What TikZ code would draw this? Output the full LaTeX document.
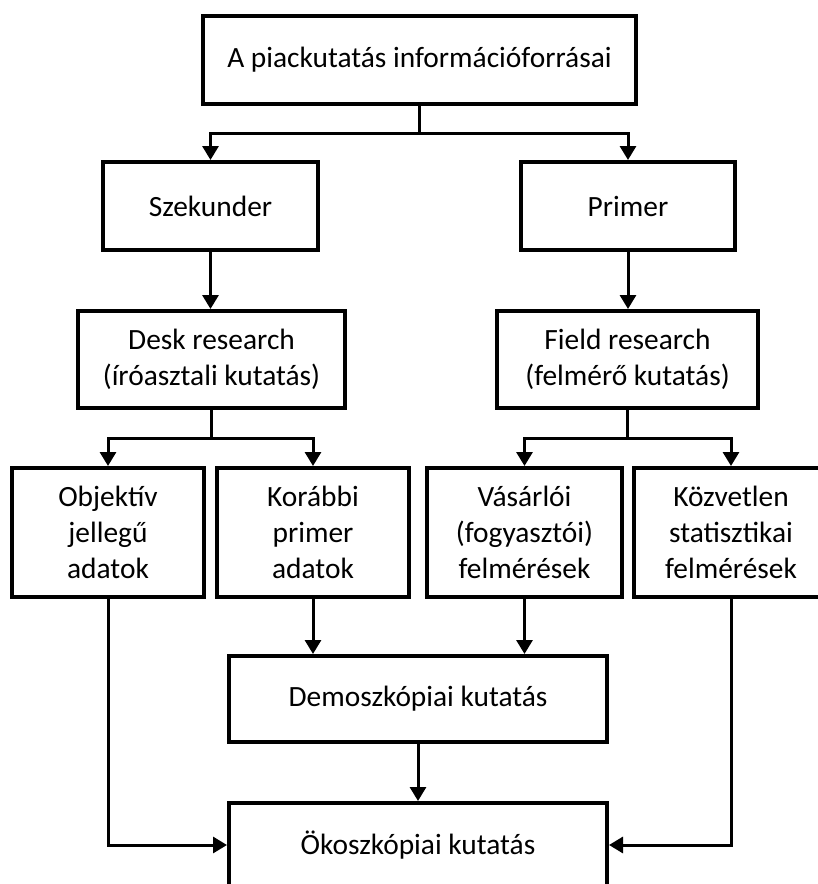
\documentclass[tikz,border=0pt]{standalone}
\usepackage{fontspec}
\setmainfont{Carlito}
\usetikzlibrary{arrows.meta}
\tikzset{
    doboz/.style={draw, line width=2pt, align=center, inner sep=0pt,
        font=\fontsize{14.7}{18}\selectfont},
    nyil/.style={line width=1.5pt, -{Triangle[length=7pt,width=8pt]}},
    vonal/.style={line width=1.5pt}
}
\begin{document}
\begin{tikzpicture}[x=0.5pt, y=-0.5pt]
\useasboundingbox (0,0) rectangle (818,884);
\clip (0,0) rectangle (818,884);
% dobozok
\node[doboz, minimum width=216.5pt, minimum height=44pt] (forras) at (419.5,60) {A piackutatás információforrásai};
\node[doboz, minimum width=107.5pt, minimum height=44pt] (szek) at (210.5,206) {Szekunder};
\node[doboz, minimum width=107pt, minimum height=44pt] (prim) at (628,206) {Primer};
\node[doboz, minimum width=133.5pt, minimum height=48.5pt] (desk) at (211.5,359.5) {Desk research\\(íróasztali kutatás)};
\node[doboz, minimum width=130.5pt, minimum height=48.5pt] (field) at (627.5,359.5) {Field research\\(felmérő kutatás)};
\node[doboz, minimum width=96pt, minimum height=64.5pt] (obj) at (108,532.5) {Objektív\\jellegű\\adatok};
\node[doboz, minimum width=96pt, minimum height=64.5pt] (kor) at (313,532.5) {Korábbi\\primer\\adatok};
\node[doboz, minimum width=97.5pt, minimum height=64.5pt] (vas) at (524.5,532.5) {Vásárlói\\(fogyasztói)\\felmérések};
\node[doboz, minimum width=97pt, minimum height=64.5pt] (kozv) at (731,532.5) {Közvetlen\\statisztikai\\felmérések};
\node[doboz, minimum width=189pt, minimum height=43pt] (demo) at (418,699) {Demoszkópiai kutatás};
\node[doboz, minimum width=189pt, minimum height=42pt] (oko) at (418,845) {Ökoszkópiai kutatás};
% elagazasok
\coordinate (e1) at (419.5,133);
\coordinate (e2) at (211.5,438);
\coordinate (e3) at (627.5,438);
\draw[vonal] (forras.south) -- (e1);
\draw[nyil] (e1) -| (szek);
\draw[nyil] (e1) -| (prim);
\draw[nyil] (szek) -- (szek |- desk.north);
\draw[nyil] (prim) -- (prim |- field.north);
\draw[vonal] (desk.south) -- (e2);
\draw[nyil] (e2) -| (obj);
\draw[nyil] (e2) -| (kor);
\draw[vonal] (field.south) -- (e3);
\draw[nyil] (e3) -| (vas);
\draw[nyil] (e3) -| (kozv);
\draw[nyil] (kor) -- (kor |- demo.north);
\draw[nyil] (vas) -- (vas |- demo.north);
\draw[nyil] (demo) -- (oko);
\draw[nyil] (obj) |- (oko);
\draw[nyil] (kozv) |- (oko);
\end{tikzpicture}
\end{document}
